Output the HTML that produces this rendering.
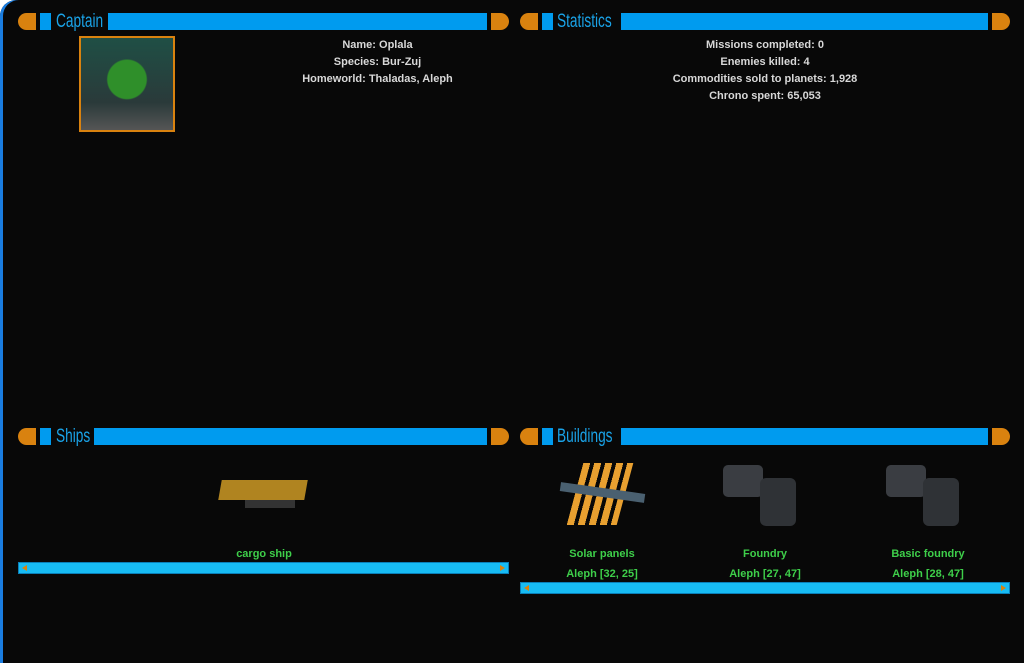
<!DOCTYPE html>
<html><head><style>
body{margin:0;width:1024px;height:663px;background:#fff;overflow:hidden;font-family:"Liberation Sans",sans-serif}
#wrap{position:absolute;left:0;top:0;width:1024px;height:663px;background:#080808;border-top-left-radius:16px;box-shadow:inset 3px 0 0 #1a7de0}
.a{position:absolute}
.capL{background:#d9820f;border-radius:9px 0 0 9px;width:18px;height:17px}
.capR{background:#d9820f;border-radius:0 9px 9px 0;width:18px;height:17px}
.sq{background:#009bef;width:11px;height:17px}
.bar{background:#009bef;height:17px}
.t{color:#1aa3e8;font-size:19px;line-height:17px;transform:scaleX(0.72);transform-origin:left top;white-space:nowrap}
.txt{color:#d8d8d8;font-size:11px;font-weight:bold;text-align:center;line-height:17px}
.g{color:#3ecf4a;font-size:11px;font-weight:bold;text-align:center}
.sb{background:#17bcf4;height:10px;border:1px solid #0a7fb8}
.arl{position:absolute;top:2px;width:0;height:0;border-top:3px solid transparent;border-bottom:3px solid transparent}
</style></head><body><div id="wrap">
<!-- headers -->
<div class="a capL" style="left:18px;top:13px"></div><div class="a sq" style="left:40px;top:13px"></div>
<div class="a t" style="left:56px;top:13px">Captain</div><div class="a bar" style="left:108px;top:13px;width:379px"></div><div class="a capR" style="left:491px;top:13px"></div>
<div class="a capL" style="left:520px;top:13px"></div><div class="a sq" style="left:542px;top:13px"></div>
<div class="a t" style="left:557px;top:13px">Statistics</div><div class="a bar" style="left:621px;top:13px;width:367px"></div><div class="a capR" style="left:992px;top:13px"></div>
<div class="a capL" style="left:18px;top:428px"></div><div class="a sq" style="left:40px;top:428px"></div>
<div class="a t" style="left:56px;top:428px">Ships</div><div class="a bar" style="left:94px;top:428px;width:393px"></div><div class="a capR" style="left:491px;top:428px"></div>
<div class="a capL" style="left:520px;top:428px"></div><div class="a sq" style="left:542px;top:428px"></div>
<div class="a t" style="left:557px;top:428px">Buildings</div><div class="a bar" style="left:621px;top:428px;width:367px"></div><div class="a capR" style="left:992px;top:428px"></div>
<!-- portrait -->
<div class="a" style="left:79px;top:36px;width:92px;height:92px;border:2px solid #d9820f;background:radial-gradient(circle at 50% 45%,#2f8f2a 0 28%,transparent 30%),linear-gradient(#1f4f45,#2a3a3a 70%,#555 100%)"></div>
<div class="a txt" style="left:250px;top:37px;width:255px">Name: Oplala<br>Species: Bur-Zuj<br>Homeworld: Thaladas, Aleph</div>
<div class="a txt" style="left:640px;top:37px;width:250px">Missions completed: 0<br>Enemies killed: 4<br>Commodities sold to planets: 1,928<br>Chrono spent: 65,053</div>
<!-- ship -->
<div class="a" style="left:220px;top:480px;width:86px;height:20px;background:#b08420;transform:skewX(-10deg)"></div>
<div class="a" style="left:245px;top:500px;width:50px;height:8px;background:#333"></div>
<div class="a g" style="left:164px;top:548px;width:200px">cargo ship</div>
<div class="a sb" style="left:18px;top:562px;width:489px"><div class="arl" style="left:3px;border-right:5px solid #d9820f"></div><div class="arl" style="right:3px;border-left:5px solid #d9820f"></div></div>
<!-- buildings -->
<div class="a" style="left:575px;top:463px;width:50px;height:62px;background:repeating-linear-gradient(90deg,#e8a030 0 7px,transparent 7px 11px);transform:skewX(-15deg)"></div>
<div class="a" style="left:560px;top:488px;width:85px;height:9px;background:#4a6070;transform:rotate(8deg)"></div>
<div class="a" style="left:723px;top:465px;width:40px;height:32px;background:#3a3d42;border-radius:5px"></div>
<div class="a" style="left:760px;top:478px;width:36px;height:48px;background:#2f3236;border-radius:6px"></div>
<div class="a" style="left:886px;top:465px;width:40px;height:32px;background:#3a3d42;border-radius:5px"></div>
<div class="a" style="left:923px;top:478px;width:36px;height:48px;background:#2f3236;border-radius:6px"></div>
<div class="a g" style="left:542px;top:548px;width:120px">Solar panels</div>
<div class="a g" style="left:705px;top:548px;width:120px">Foundry</div>
<div class="a g" style="left:868px;top:548px;width:120px">Basic foundry</div>
<div class="a g" style="left:542px;top:568px;width:120px">Aleph [32, 25]</div>
<div class="a g" style="left:705px;top:568px;width:120px">Aleph [27, 47]</div>
<div class="a g" style="left:868px;top:568px;width:120px">Aleph [28, 47]</div>
<div class="a sb" style="left:520px;top:582px;width:488px"><div class="arl" style="left:3px;border-right:5px solid #d9820f"></div><div class="arl" style="right:3px;border-left:5px solid #d9820f"></div></div>
</div></body></html>
